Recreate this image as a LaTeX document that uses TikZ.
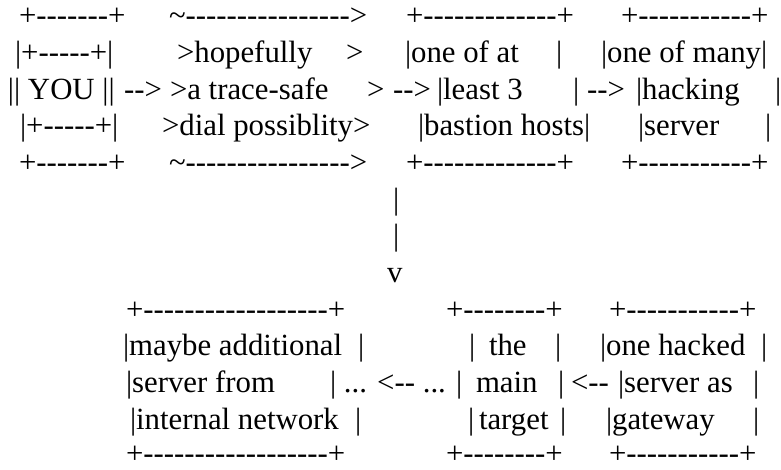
\documentclass[tikz,border=0pt]{standalone}
\usepackage{fontspec}
\newfontfamily\asciifont{Liberation Serif}[Ligatures=TeXOff]
\usepackage{tikz}
\usetikzlibrary{positioning}

\begin{document}
\begin{tikzpicture}[
        x=1pt, y=-1pt,
        ascii/.style={anchor=base west, inner sep=0pt, outer sep=0pt, font=\fontsize{30.8}{37}\asciifont},
        lastrow/.style={ascii, text depth=0pt}
    ]
        \useasboundingbox (0,0) rectangle (781,470);
        % top row of boxes
        \node[ascii] (youtop)    at (19,26)  {+-------+};
        \node[ascii] (dialtop)   at (169,26) {\textasciitilde---------------->};
        \node[ascii] (bastop)    at (406,26) {+-------------+};
        \node[ascii] (hacktop)   at (621,26) {+-----------+};
        \node[ascii] (youin1)    at (15,62.6)  {|+-----+|};
        \node[ascii] (dial1)     at (177,62.6) {>hopefully};
        \node[ascii] (dial1r)    at (346,62.6) {>};
        \node[ascii] (bas1)      at (405,62.6) {|one of at};
        \node[ascii] (bas1r)     at (556,62.6) {|};
        \node[ascii] (hack1)     at (601,62.6) {|one of many|};
        \node[ascii] (you)       at (8,99.3)   {|| YOU ||};
        \node[ascii] (arr1)      at (124,99.3) {-->};
        \node[ascii] (dial2)     at (170,99.3) {>a trace-safe};
        \node[ascii] (dial2r)    at (367,99.3) {>};
        \node[ascii] (arr2)      at (393,99.3) {-->};
        \node[ascii] (bas2)      at (437,99.3) {|least 3};
        \node[ascii] (bas2r)     at (573,99.3) {|};
        \node[ascii] (arr3)      at (587,99.3) {-->};
        \node[ascii] (hack2)     at (636,99.3) {|hacking};
        \node[ascii] (hack2r)    at (775,99.3) {|};
        \node[ascii] (youin2)    at (20,136)   {|+-----+|};
        \node[ascii] (dial3)     at (162,136)  {>dial possiblity>};
        \node[ascii] (bas3)      at (418,136)  {|bastion hosts|};
        \node[ascii] (hack3)     at (638,136)  {|server};
        \node[ascii] (hack3r)    at (765,136)  {|};
        \node[ascii] (youbot)    at (19,172.6)  {+-------+};
        \node[ascii] (dialbot)   at (169,172.6) {\textasciitilde---------------->};
        \node[ascii] (basbot)    at (406,172.6) {+-------------+};
        \node[ascii] (hackbot)   at (621,172.6) {+-----------+};
        % arrow down
        \node[ascii] (down1)     at (393,209.3) {|};
        \node[ascii] (down2)     at (393,245.9) {|};
        \node[ascii] (downtip)   at (387,282.6) {v};
        % bottom row of boxes
        \node[ascii] (inttop)    at (126,319.2) {+------------------+};
        \node[ascii] (tgttop)    at (446,319.2) {+--------+};
        \node[ascii] (gwtop)     at (609,319.2) {+-----------+};
        \node[ascii] (int1)      at (123,355.9) {|maybe additional};
        \node[ascii] (int1r)     at (358,355.9) {|};
        \node[ascii] (tgt1l)     at (469,355.9) {|};
        \node[ascii] (tgt1)      at (489,355.9) {the};
        \node[ascii] (tgt1r)     at (555,355.9) {|};
        \node[ascii] (gw1)       at (600,355.9) {|one hacked};
        \node[ascii] (gw1r)      at (761,355.9) {|};
        \node[ascii] (int2)      at (126,392.5) {|server from};
        \node[ascii] (dots)      at (330,392.5) {| ... <-- ... |};
        \node[ascii] (tgt2)      at (476,392.5) {main};
        \node[ascii] (tgt2r)     at (558,392.5) {|};
        \node[ascii] (arr5)      at (571,392.5) {<--};
        \node[ascii] (gw2)       at (618,392.5) {|server as};
        \node[ascii] (gw2r)      at (753,392.5) {|};
        \node[ascii] (int3)      at (130,429.2) {|internal network};
        \node[ascii] (int3r)     at (355,429.2) {|};
        \node[ascii] (tgt3l)     at (468,429.2) {|};
        \node[ascii] (tgt3)      at (479,429.2) {target};
        \node[ascii] (tgt3r)     at (560,429.2) {|};
        \node[ascii] (gw3)       at (606,429.2) {|gateway};
        \node[ascii] (gw3r)      at (753,429.2) {|};
        \node[lastrow] (intbot)  at (126,463.4) {+------------------+};
        \node[lastrow] (tgtbot)  at (446,463.4) {+--------+};
        \node[lastrow] (gwbot)   at (609,463.4) {+-----------+};
    \end{tikzpicture}
\end{document}
